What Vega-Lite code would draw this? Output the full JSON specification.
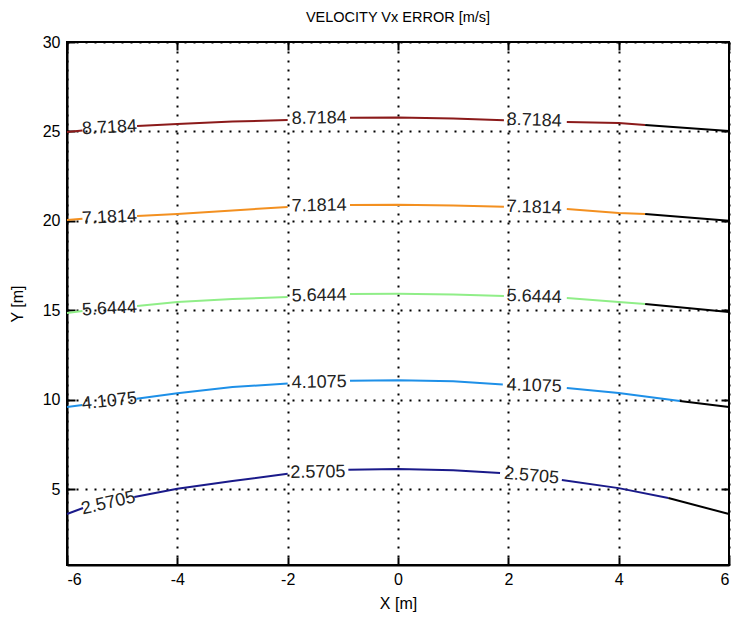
{
  "$schema": "https://vega.github.io/schema/vega-lite/v6.json",
  "autosize": {"type": "none"},
  "width": 662,
  "height": 523,
  "padding": {"left": 67, "top": 42, "right": 9, "bottom": 55},
  "background": "white",
  "title": {"text": "VELOCITY Vx ERROR [m/s]", "font": "Liberation Sans", "fontSize": 14.5, "fontWeight": "normal", "color": "black", "offset": 9, "anchor": "middle"},
  "config": {
    "view": {"stroke": "black", "strokeWidth": 2},
    "axis": {"labelFont": "Liberation Sans", "labelFontSize": 16, "labelColor": "black", "titleFont": "Liberation Sans", "titleFontSize": 16, "titleFontWeight": "normal", "titleColor": "black", "grid": true, "gridColor": "black", "gridDash": [2, 7], "gridWidth": 2, "gridOpacity": 1, "domainColor": "black", "domainWidth": 2, "tickColor": "black", "tickWidth": 2, "tickSize": -8, "labelExpr": "'' + datum.value"}
  },
  "resolve": {"axis": {"x": "independent", "y": "independent"}},
  "datasets": {
    "lines": [
      {"level": "2.5705", "seg": "a", "x": -6, "y": 3.6}, {"level": "2.5705", "seg": "a", "x": -5.71, "y": 3.94},
      {"level": "2.5705", "seg": "b", "x": -4.78, "y": 4.55}, {"level": "2.5705", "seg": "b", "x": -4, "y": 5.02}, {"level": "2.5705", "seg": "b", "x": -3, "y": 5.45}, {"level": "2.5705", "seg": "b", "x": -2, "y": 5.85},
      {"level": "2.5705", "seg": "c", "x": -0.9, "y": 6.08}, {"level": "2.5705", "seg": "c", "x": 0, "y": 6.12}, {"level": "2.5705", "seg": "c", "x": 1, "y": 6.05}, {"level": "2.5705", "seg": "c", "x": 1.85, "y": 5.9},
      {"level": "2.5705", "seg": "d", "x": 2.97, "y": 5.5}, {"level": "2.5705", "seg": "d", "x": 4, "y": 5.05}, {"level": "2.5705", "seg": "d", "x": 4.9, "y": 4.5},
      {"level": "4.1075", "seg": "a", "x": -6, "y": 9.59}, {"level": "4.1075", "seg": "a", "x": -5.72, "y": 9.7},
      {"level": "4.1075", "seg": "b", "x": -4.74, "y": 10.05}, {"level": "4.1075", "seg": "b", "x": -4, "y": 10.35}, {"level": "4.1075", "seg": "b", "x": -3, "y": 10.7}, {"level": "4.1075", "seg": "b", "x": -2, "y": 10.9},
      {"level": "4.1075", "seg": "c", "x": -0.87, "y": 11.05}, {"level": "4.1075", "seg": "c", "x": 0, "y": 11.08}, {"level": "4.1075", "seg": "c", "x": 1, "y": 11.02}, {"level": "4.1075", "seg": "c", "x": 1.9, "y": 10.85},
      {"level": "4.1075", "seg": "d", "x": 3.06, "y": 10.65}, {"level": "4.1075", "seg": "d", "x": 4, "y": 10.37}, {"level": "4.1075", "seg": "d", "x": 5.11, "y": 9.92},
      {"level": "5.6444", "seg": "a", "x": -6, "y": 14.84}, {"level": "5.6444", "seg": "a", "x": -5.72, "y": 14.95},
      {"level": "5.6444", "seg": "b", "x": -4.73, "y": 15.23}, {"level": "5.6444", "seg": "b", "x": -4, "y": 15.46}, {"level": "5.6444", "seg": "b", "x": -3, "y": 15.62}, {"level": "5.6444", "seg": "b", "x": -2, "y": 15.74},
      {"level": "5.6444", "seg": "c", "x": -0.87, "y": 15.9}, {"level": "5.6444", "seg": "c", "x": 0, "y": 15.92}, {"level": "5.6444", "seg": "c", "x": 1, "y": 15.88}, {"level": "5.6444", "seg": "c", "x": 1.92, "y": 15.8},
      {"level": "5.6444", "seg": "d", "x": 3.06, "y": 15.68}, {"level": "5.6444", "seg": "d", "x": 4, "y": 15.46}, {"level": "5.6444", "seg": "d", "x": 4.48, "y": 15.35},
      {"level": "7.1814", "seg": "a", "x": -6, "y": 20.04}, {"level": "7.1814", "seg": "a", "x": -5.72, "y": 20.12},
      {"level": "7.1814", "seg": "b", "x": -4.73, "y": 20.27}, {"level": "7.1814", "seg": "b", "x": -4, "y": 20.38}, {"level": "7.1814", "seg": "b", "x": -3, "y": 20.58}, {"level": "7.1814", "seg": "b", "x": -2, "y": 20.77},
      {"level": "7.1814", "seg": "c", "x": -0.87, "y": 20.88}, {"level": "7.1814", "seg": "c", "x": 0, "y": 20.9}, {"level": "7.1814", "seg": "c", "x": 1, "y": 20.85}, {"level": "7.1814", "seg": "c", "x": 1.92, "y": 20.78},
      {"level": "7.1814", "seg": "d", "x": 3.06, "y": 20.66}, {"level": "7.1814", "seg": "d", "x": 4, "y": 20.44}, {"level": "7.1814", "seg": "d", "x": 4.48, "y": 20.38},
      {"level": "8.7184", "seg": "a", "x": -6, "y": 24.97}, {"level": "8.7184", "seg": "a", "x": -5.72, "y": 25.05},
      {"level": "8.7184", "seg": "b", "x": -4.73, "y": 25.3}, {"level": "8.7184", "seg": "b", "x": -4, "y": 25.41}, {"level": "8.7184", "seg": "b", "x": -3, "y": 25.55}, {"level": "8.7184", "seg": "b", "x": -2, "y": 25.64},
      {"level": "8.7184", "seg": "c", "x": -0.87, "y": 25.77}, {"level": "8.7184", "seg": "c", "x": 0, "y": 25.78}, {"level": "8.7184", "seg": "c", "x": 1, "y": 25.72}, {"level": "8.7184", "seg": "c", "x": 1.92, "y": 25.62},
      {"level": "8.7184", "seg": "d", "x": 3.06, "y": 25.53}, {"level": "8.7184", "seg": "d", "x": 4, "y": 25.47}, {"level": "8.7184", "seg": "d", "x": 4.48, "y": 25.36}
    ],
    "tails": [
      {"level": "2.5705", "x": 4.9, "y": 4.5}, {"level": "2.5705", "x": 6, "y": 3.6},
      {"level": "4.1075", "x": 5.11, "y": 9.92}, {"level": "4.1075", "x": 6, "y": 9.59},
      {"level": "5.6444", "x": 4.48, "y": 15.35}, {"level": "5.6444", "x": 6, "y": 14.9},
      {"level": "7.1814", "x": 4.48, "y": 20.38}, {"level": "7.1814", "x": 6, "y": 20.0},
      {"level": "8.7184", "x": 4.48, "y": 25.36}, {"level": "8.7184", "x": 6, "y": 25.02}
    ],
    "labels": [
      {"level": "2.5705", "pos": "left", "x": -5.25, "y": 4.2},
      {"level": "2.5705", "pos": "mid", "x": -1.45, "y": 5.92},
      {"level": "2.5705", "pos": "right", "x": 2.42, "y": 5.72},
      {"level": "4.1075", "pos": "left", "x": -5.23, "y": 9.9},
      {"level": "4.1075", "pos": "mid", "x": -1.43, "y": 10.95},
      {"level": "4.1075", "pos": "right", "x": 2.47, "y": 10.75},
      {"level": "5.6444", "pos": "left", "x": -5.23, "y": 15.07},
      {"level": "5.6444", "pos": "mid", "x": -1.43, "y": 15.8},
      {"level": "5.6444", "pos": "right", "x": 2.47, "y": 15.74},
      {"level": "7.1814", "pos": "left", "x": -5.23, "y": 20.18},
      {"level": "7.1814", "pos": "mid", "x": -1.43, "y": 20.83},
      {"level": "7.1814", "pos": "right", "x": 2.47, "y": 20.73},
      {"level": "8.7184", "pos": "left", "x": -5.23, "y": 25.2},
      {"level": "8.7184", "pos": "mid", "x": -1.43, "y": 25.72},
      {"level": "8.7184", "pos": "right", "x": 2.47, "y": 25.6}
    ]
  },
  "layer": [
    {
      "data": {"name": "lines"},
      "mark": {"type": "line", "strokeWidth": 2},
      "encoding": {
        "x": {"field": "x", "type": "quantitative", "scale": {"domain": [-6, 6], "nice": false, "zero": false}, "axis": {"title": "X [m]", "values": [-6, -4, -2, 0, 2, 4, 6], "labelPadding": 14, "titlePadding": 8}},
        "y": {"field": "y", "type": "quantitative", "scale": {"domain": [0.75, 30], "nice": false, "zero": false}, "axis": {"title": "Y [m]", "values": [5, 10, 15, 20, 25, 30], "labelPadding": 15, "titlePadding": 17}},
        "color": {"field": "level", "type": "nominal", "scale": {"domain": ["2.5705", "4.1075", "5.6444", "7.1814", "8.7184"], "range": ["#1a1a8a", "#1e90e8", "#90ee88", "#f39020", "#8b1a1a"]}, "legend": null},
        "detail": {"field": "seg"},
        "order": {"field": "x", "type": "quantitative"}
      }
    },
    {
      "data": {"name": "tails"},
      "mark": {"type": "line", "strokeWidth": 2, "color": "black"},
      "encoding": {
        "x": {"field": "x", "type": "quantitative", "axis": {"orient": "top", "labels": false, "title": null, "grid": false, "domain": false, "values": [-6, -4, -2, 0, 2, 4, 6]}},
        "y": {"field": "y", "type": "quantitative", "axis": {"orient": "right", "labels": false, "title": null, "grid": false, "domain": false, "values": [5, 10, 15, 20, 25, 30]}},
        "detail": {"field": "level"}
      }
    },
    {
      "data": {"name": "labels"},
      "transform": [{"filter": "datum.level == '2.5705' && datum.pos == 'left'"}],
      "mark": {"type": "text", "font": "Liberation Sans", "fontSize": 18, "color": "#222", "angle": 347, "align": "center", "baseline": "middle"},
      "encoding": {"x": {"field": "x", "type": "quantitative", "axis": null}, "y": {"field": "y", "type": "quantitative", "axis": null}, "text": {"field": "level"}}
    },
    {
      "data": {"name": "labels"},
      "transform": [{"filter": "datum.level == '4.1075' && datum.pos == 'left'"}],
      "mark": {"type": "text", "font": "Liberation Sans", "fontSize": 18, "color": "#222", "angle": 354, "align": "center", "baseline": "middle"},
      "encoding": {"x": {"field": "x", "type": "quantitative", "axis": null}, "y": {"field": "y", "type": "quantitative", "axis": null}, "text": {"field": "level"}}
    },
    {
      "data": {"name": "labels"},
      "transform": [{"filter": "datum.level != '2.5705' && datum.level != '4.1075' && datum.pos == 'left'"}],
      "mark": {"type": "text", "font": "Liberation Sans", "fontSize": 18, "color": "#222", "angle": 357, "align": "center", "baseline": "middle"},
      "encoding": {"x": {"field": "x", "type": "quantitative", "axis": null}, "y": {"field": "y", "type": "quantitative", "axis": null}, "text": {"field": "level"}}
    },
    {
      "data": {"name": "labels"},
      "transform": [{"filter": "datum.pos == 'mid'"}],
      "mark": {"type": "text", "font": "Liberation Sans", "fontSize": 18, "color": "#222", "angle": 359, "align": "center", "baseline": "middle"},
      "encoding": {"x": {"field": "x", "type": "quantitative", "axis": null}, "y": {"field": "y", "type": "quantitative", "axis": null}, "text": {"field": "level"}}
    },
    {
      "data": {"name": "labels"},
      "transform": [{"filter": "datum.pos == 'right' && datum.level == '2.5705'"}],
      "mark": {"type": "text", "font": "Liberation Sans", "fontSize": 18, "color": "#222", "angle": 5, "align": "center", "baseline": "middle"},
      "encoding": {"x": {"field": "x", "type": "quantitative", "axis": null}, "y": {"field": "y", "type": "quantitative", "axis": null}, "text": {"field": "level"}}
    },
    {
      "data": {"name": "labels"},
      "transform": [{"filter": "datum.pos == 'right' && datum.level != '2.5705'"}],
      "mark": {"type": "text", "font": "Liberation Sans", "fontSize": 18, "color": "#222", "angle": 2, "align": "center", "baseline": "middle"},
      "encoding": {"x": {"field": "x", "type": "quantitative", "axis": null}, "y": {"field": "y", "type": "quantitative", "axis": null}, "text": {"field": "level"}}
    }
  ]
}
